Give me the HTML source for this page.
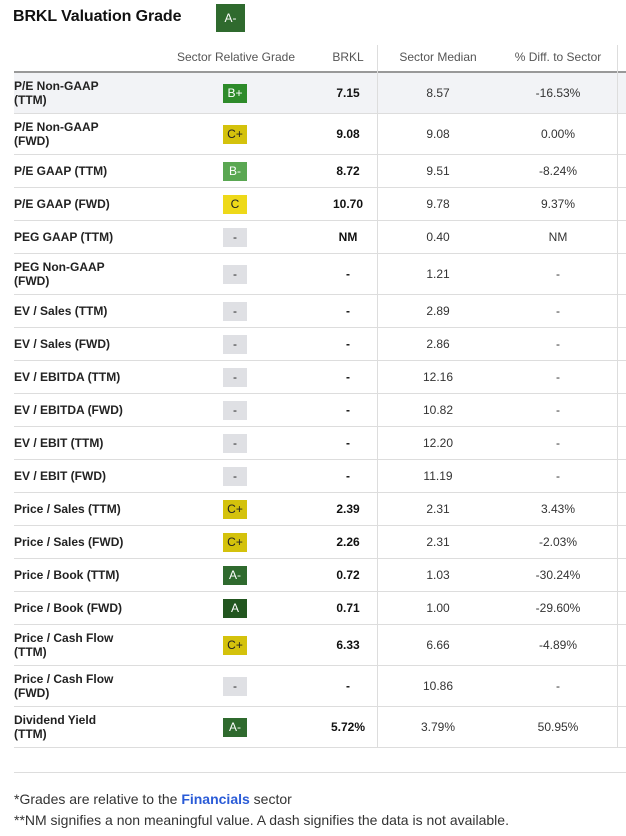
<!DOCTYPE html>
<html><head><meta charset="utf-8"><style>
body{margin:0;width:626px;height:836px;background:#fff;font-family:"Liberation Sans",Arial,sans-serif;color:#222;position:relative;overflow:hidden}
.abs{position:absolute}
.title{left:13px;top:8px;font-size:16px;font-weight:bold;color:#111;letter-spacing:-0.1px}
.tbadge{left:216px;top:4px;width:29px;height:28px;background:#2f6a2e;color:#fff;font-size:12px;line-height:28px;text-align:center}
.hdr{top:50px;font-size:12px;color:#555;text-align:center;transform:translateX(-50%);white-space:nowrap}
.vline{width:1px;background:#ddd;top:45px;height:702px}
.row{left:14px;width:612px;border-bottom:1px solid #ddd;box-sizing:border-box}
.lbl{left:14px;font-size:12px;font-weight:bold;color:#222;line-height:14px}
.badge{width:24px;height:19px;font-size:12px;line-height:19px;text-align:center}
.cell{font-size:12px;transform:translateX(-50%);white-space:nowrap}
.foot{left:14px;font-size:14px;color:#333}
</style></head><body>
<div class="abs title">BRKL Valuation Grade</div>
<div class="abs tbadge">A-</div>
<div class="abs row" style="top:45px;height:28px;border-bottom:2px solid #999"></div>
<div class="abs hdr" style="left:236px">Sector Relative Grade</div>
<div class="abs hdr" style="left:348px">BRKL</div>
<div class="abs hdr" style="left:438px">Sector Median</div>
<div class="abs hdr" style="left:558px">% Diff. to Sector</div>
<div id="rows"></div>
<div class="abs vline" style="left:377px"></div>
<div class="abs vline" style="left:617px"></div>
<div class="abs" style="left:14px;top:772px;width:612px;height:1px;background:#ddd"></div>
<div class="abs foot" style="top:791px">*Grades are relative to the <span style="color:#2a5bd7;font-weight:bold">Financials</span> sector</div>
<div class="abs foot" style="top:812px">**NM signifies a non meaningful value. A dash signifies the data is not available.</div>
<script>
const metrics=["P/E Non-GAAP<br>(TTM)","P/E Non-GAAP<br>(FWD)","P/E GAAP (TTM)","P/E GAAP (FWD)","PEG GAAP (TTM)","PEG Non-GAAP<br>(FWD)","EV / Sales (TTM)","EV / Sales (FWD)","EV / EBITDA (TTM)","EV / EBITDA (FWD)","EV / EBIT (TTM)","EV / EBIT (FWD)","Price / Sales (TTM)","Price / Sales (FWD)","Price / Book (TTM)","Price / Book (FWD)","Price / Cash Flow<br>(TTM)","Price / Cash Flow<br>(FWD)","Dividend Yield<br>(TTM)"];
const grades=["B+","C+","B-","C","-","-","-","-","-","-","-","-","C+","C+","A-","A","C+","-","A-"];
const brkl=["7.15","9.08","8.72","10.70","NM","-","-","-","-","-","-","-","2.39","2.26","0.72","0.71","6.33","-","5.72%"];
const median=["8.57","9.08","9.51","9.78","0.40","1.21","2.89","2.86","12.16","10.82","12.20","11.19","2.31","2.31","1.03","1.00","6.66","10.86","3.79%"];
const diff=["-16.53%","0.00%","-8.24%","9.37%","NM","-","-","-","-","-","-","-","3.43%","-2.03%","-30.24%","-29.60%","-4.89%","-","50.95%"];
const gradeColors={"A":["#22561f","#fff"],"A-":["#2f6a2e","#fff"],"B+":["#2e8b2a","#fff"],"B-":["#5aa752","#fff"],"C+":["#d4c20c","#222"],"C":["#eed919","#222"],"-":["#dfe0e4","#222"]};
const root=document.getElementById('rows');
let y=73;
metrics.forEach((m,i)=>{
  const h=m.includes('<br>')?41:33;
  const r=document.createElement('div');r.className='abs row';
  r.style.top=y+'px';r.style.height=h+'px';if(i===0)r.style.background='#f2f3f6';
  
  
  root.appendChild(r);
  const mid=y+h/2;
  const l=document.createElement('div');l.className='abs lbl';l.innerHTML=m;
  l.style.top=(mid-(m.includes('<br>')?14:7)-1)+'px';
  
  
  root.appendChild(l);
  const b=document.createElement('div');b.className='abs badge';b.textContent=grades[i];
  const c=gradeColors[grades[i]];b.style.background=c[0];b.style.color=c[1];
  b.style.left='223px';b.style.top=(mid-10)+'px';
  
  
  root.appendChild(b);
  [[brkl[i],348,true,'brkl-value'],[median[i],438,false,'sector-median-value'],[diff[i],558,false,'diff-value']].forEach(v=>{
    const t=document.createElement('div');t.className='abs cell';t.textContent=v[0];
    t.style.left=v[1]+'px';t.style.top=(mid-8)+'px';
    if(v[2]){t.style.fontWeight='bold';t.style.color='#111';}else t.style.color='#333';
    
    
    root.appendChild(t);
  });
  y+=h;
});
</script>
</body></html>
